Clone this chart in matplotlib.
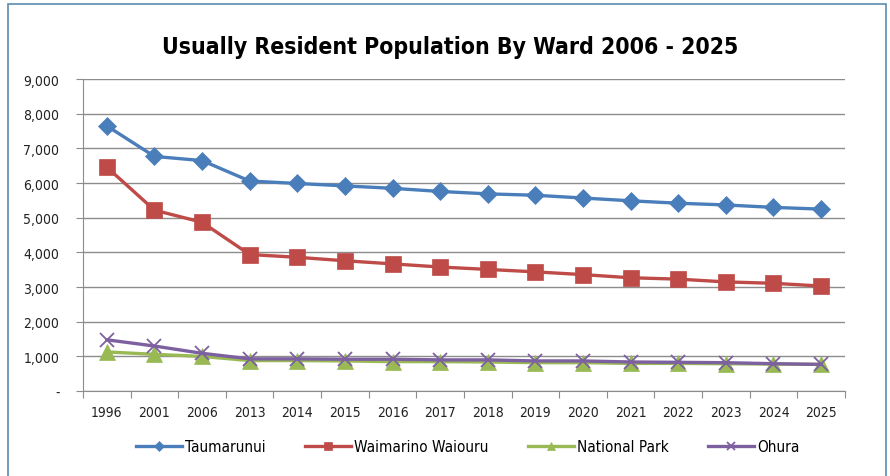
import matplotlib

matplotlib.use("Agg")
from matplotlib import pyplot as plt
from matplotlib.ticker import FuncFormatter, FixedLocator
from matplotlib.patches import Rectangle
import numpy as np

years = ['1996', '2001', '2006', '2013', '2014', '2015', '2016', '2017',
         '2018', '2019', '2020', '2021', '2022', '2023', '2024', '2025']

taumarunui = [7650, 6770, 6650, 6060, 5990, 5920, 5850, 5760,
              5690, 5650, 5570, 5490, 5420, 5370, 5300, 5250]
waimarino = [6460, 5220, 4870, 3940, 3860, 3760, 3670, 3580,
             3510, 3440, 3360, 3270, 3230, 3150, 3110, 3030]
national_park = [1130, 1060, 1000, 880, 880, 870, 850, 850,
                 840, 820, 820, 800, 800, 790, 780, 770]
ohura = [1480, 1300, 1090, 930, 930, 920, 920, 900,
         900, 870, 870, 840, 830, 820, 790, 770]

series = [
    ('Taumarunui', taumarunui, '#4A7EBB', 'D', 9),
    ('Waimarino Waiouru', waimarino, '#BE4B48', 's', 11),
    ('National Park', national_park, '#98B954', '^', 11),
    ('Ohura', ohura, '#7D60A0', 'x', 10),
]

plt.rcParams['font.family'] = ['DejaVu Sans']
plt.rcParams['font.stretch'] = 'condensed'

fig = plt.figure(figsize=(8.9, 4.77), dpi=100)
ax = fig.add_axes([0.0933, 0.178, 0.856, 0.654])

x = np.arange(len(years))
for name, vals, col, mk, ms in series:
    ax.plot(x, vals, color=col, lw=2.4, marker=mk, markersize=ms,
            markeredgewidth=1.3 if mk == 'x' else 0.5,
            markeredgecolor=col, label=name, zorder=3)

ax.set_xlim(-0.5, len(years) - 0.5)
ax.set_ylim(0, 9000)
ax.set_yticks(np.arange(0, 9001, 1000))
ax.yaxis.set_major_formatter(FuncFormatter(
    lambda v, p: '-' if v == 0 else '{:,.0f}'.format(v)))
ax.grid(axis='y', color='#8C8C8C', lw=1)
ax.set_axisbelow(True)

# category axis: ticks between the categories, labels in the middle
ax.xaxis.set_major_locator(FixedLocator(np.arange(-0.5, len(years), 1.0)))
ax.xaxis.set_minor_locator(FixedLocator(x))
ax.set_xticklabels([], minor=False)
ax.set_xticklabels(years, minor=True)
ax.tick_params(axis='x', which='minor', length=0, pad=10, labelsize=10,
               labelcolor='#222222')
ax.tick_params(axis='x', which='major', length=5, color='#8C8C8C')
ax.tick_params(axis='y', length=5, color='#8C8C8C', labelsize=10, pad=12,
               labelcolor='#222222')

for s in ['top', 'right']:
    ax.spines[s].set_visible(False)
for s in ['left', 'bottom']:
    ax.spines[s].set_color('#8C8C8C')

fig.text(0.506, 0.9, 'Usually Resident Population By Ward 2006 - 2025',
         ha='center', va='center', fontsize=16.5, fontweight='bold')

ax.legend(loc='center', bbox_to_anchor=(0.505, -0.178), ncol=4, frameon=False,
          fontsize=11, handlelength=3.0, columnspacing=2.6, handletextpad=0.2,
          markerscale=0.55)

# outer chart border
fig.patches.append(Rectangle((0.009, -0.01), 0.987, 1.0, transform=fig.transFigure,
                             fill=False, edgecolor='#5B8BB0', lw=1.2))

fig.savefig('out.png', dpi=100)
